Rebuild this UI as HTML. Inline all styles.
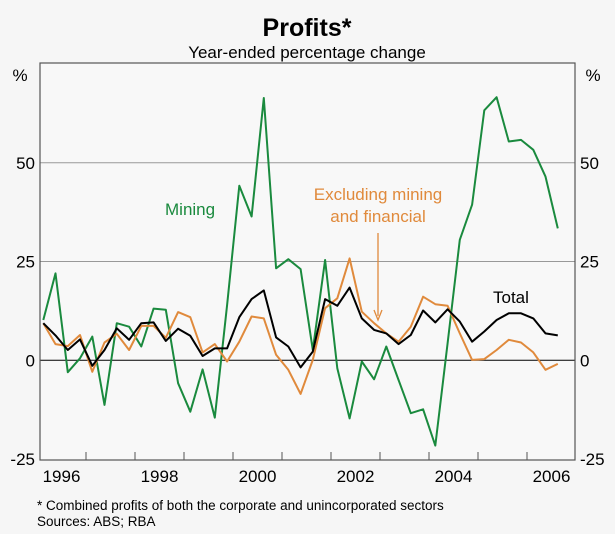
<!DOCTYPE html>
<html><head><meta charset="utf-8"><style>
body{margin:0;background:#f6f6f6;font-family:"Liberation Sans",Arial,sans-serif}
svg{display:block}
</style></head><body>
<svg id="c" width="615" height="534" viewBox="0 0 615 534" xmlns="http://www.w3.org/2000/svg" font-family="Liberation Sans, Arial, sans-serif">
<rect width="615" height="534" fill="#f6f6f6"/>
<rect x="40" y="63" width="535" height="397" fill="#f8f8f8"/>
<text x="307" y="36" text-anchor="middle" font-size="25" font-weight="bold" fill="#000">Profits*</text>
<text x="307" y="58" text-anchor="middle" font-size="17" fill="#000">Year-ended percentage change</text>
<text x="20" y="81" text-anchor="middle" font-size="17">%</text>
<text x="593" y="81" text-anchor="middle" font-size="17">%</text>
<g id="grid"></g>
<g id="series"></g>
<rect x="40" y="63" width="535" height="397" fill="none" stroke="#555" stroke-width="1.2"/>
<g id="xaxis"></g>
<text x="165" y="215" font-size="17" fill="#1a8a3e">Mining</text>
<text x="378" y="200" text-anchor="middle" font-size="17" fill="#e08a3c">Excluding mining</text>
<text x="378" y="222" text-anchor="middle" font-size="17" fill="#e08a3c">and financial</text>
<line x1="378" y1="233" x2="378" y2="316" stroke="#e08a3c" stroke-width="1.3"/>
<path d="M374 310 L378 320 L382 310" fill="none" stroke="#e08a3c" stroke-width="1.3"/>
<text x="493" y="303" font-size="17" fill="#000">Total</text>
<text x="37" y="510" font-size="13.5">*   Combined profits of both the corporate and unincorporated sectors</text>
<text x="37" y="526" font-size="13.5">Sources: ABS; RBA</text>
</svg>
<script>
const yTicks=[-25,0,25,50];
const yearLabels=["1996","1998","2000","2002","2004","2006"];
const mining=[10.2,22,-3,0.5,6,-11.3,9.4,8.5,3.5,13.1,12.8,-5.8,-13,-2.3,-14.5,14,44.2,36.4,66.4,23.3,25.6,23.1,2.6,25.4,-2,-14.7,-0.3,-4.8,3.5,-5,-13.4,-12.4,-21.6,4.3,30.5,39.4,63.3,66.6,55.4,55.8,53.3,46.5,33.4];
const total=[9.4,6.3,2.6,5.3,-1.4,2.6,8.1,5.2,9.4,9.6,4.9,8.0,6.2,1.1,3.0,3.0,10.9,15.5,17.7,5.8,3.5,-1.8,2.2,15.5,13.8,18.4,10.6,7.7,6.8,4.1,6.4,12.6,9.6,12.9,9.8,4.7,7.3,10.2,11.9,11.9,10.6,6.8,6.3];
const exclMining=[9.4,4.1,3.6,6.4,-2.9,4.5,6.7,2.6,8.7,8.7,5.7,12.2,10.9,2.0,4.1,-0.3,4.7,11.1,10.6,1.4,-2.4,-8.5,0.1,13.2,15.7,25.8,12.3,9.4,6.8,4.7,8.5,16.1,14.2,13.8,6.8,0.1,0.3,2.6,5.2,4.5,2.0,-2.4,-0.9];
const NS="http://www.w3.org/2000/svg";
const y=v=>360.3-v*3.95;
const x=i=>43.3+12.25*i;
const yearX=yr=>86+49*(yr-1997);
const grid=document.getElementById('grid');
yTicks.forEach(t=>{
  if(t!==-25){
    const l=document.createElementNS(NS,'line');
    l.setAttribute('x1',40);l.setAttribute('x2',575);l.setAttribute('y1',y(t));l.setAttribute('y2',y(t));
    l.setAttribute('stroke',t===0?'#000':'#999');l.setAttribute('stroke-width',1);
    
    
    grid.appendChild(l);
  }
  [[35,'end'],[580,'start']].forEach(([px,anc])=>{
    const tx=document.createElementNS(NS,'text');
    tx.setAttribute('x',px);tx.setAttribute('y',y(t)+6);tx.setAttribute('text-anchor',anc);tx.setAttribute('font-size','17');
    tx.textContent=t;
    
    
    grid.appendChild(tx);
  });
});
const xa=document.getElementById('xaxis');
for(let yr=1997;yr<=2007;yr++){
  const px=yearX(yr); if(px>=574) continue;
  const l=document.createElementNS(NS,'line');
  l.setAttribute('x1',px);l.setAttribute('x2',px);l.setAttribute('y1',452);l.setAttribute('y2',460);
  l.setAttribute('stroke','#555');
  
  
  xa.appendChild(l);
}
yearLabels.forEach(s=>{
  const t=document.createElementNS(NS,'text');
  t.setAttribute('x',yearX(+s)+24.5);t.setAttribute('y',482);t.setAttribute('text-anchor','middle');t.setAttribute('font-size','17');
  t.textContent=s;
  
  
  xa.appendChild(t);
});
const sg=document.getElementById('series');
[[mining,'#1a8a3e','mining-line'],[exclMining,'#e08a3c','excluding-line'],[total,'#000','total-line']].forEach(([d,c,n])=>{
  const p=document.createElementNS(NS,'polyline');
  p.setAttribute('points',d.map((v,i)=>x(i).toFixed(1)+','+y(v).toFixed(1)).join(' '));
  p.setAttribute('fill','none');p.setAttribute('stroke',c);p.setAttribute('stroke-width','2');p.setAttribute('stroke-linejoin','round');
  
  
  sg.appendChild(p);
});
</script>
</body></html>
